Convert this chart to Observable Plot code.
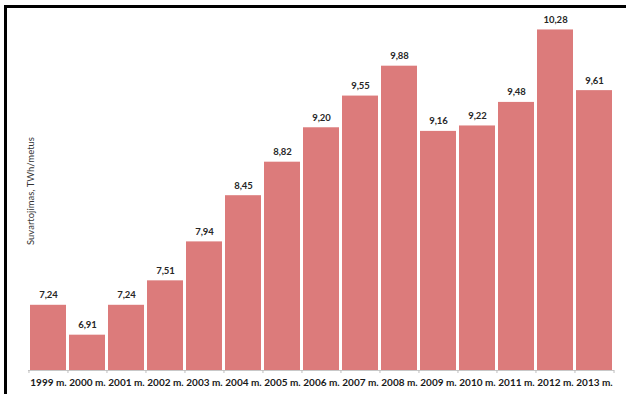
<!DOCTYPE html>
<html>
<head>
<meta charset="utf-8">
<script src="https://cdn.jsdelivr.net/npm/d3@7"></script>
<script src="https://cdn.jsdelivr.net/npm/@observablehq/plot@0.6"></script>
<style>
  html, body { margin: 0; padding: 0; background: #fff; }
  #wrap { position: relative; width: 626px; height: 394px; overflow: hidden; }
  #wrap svg { position: absolute; left: 0; top: 0; }
  #border {
    position: absolute; left: 4px; top: 5px; right: 0; bottom: 0;
    border-top: 3px solid #000; border-left: 3px solid #000;
    pointer-events: none;
  }
</style>
</head>
<body>
<div id="wrap"><div id="border"></div></div>
<script>
// Annual electricity consumption, TWh per year
const years = ["1999 m.", "2000 m.", "2001 m.", "2002 m.", "2003 m.", "2004 m.", "2005 m.", "2006 m.",
               "2007 m.", "2008 m.", "2009 m.", "2010 m.", "2011 m.", "2012 m.", "2013 m."];
const consumption = [7.24, 6.91, 7.24, 7.51, 7.94, 8.45, 8.82, 9.20, 9.55, 9.88, 9.16, 9.22, 9.48, 10.28, 9.61];
const yTitle = "Suvartojimas, TWh/metus";

const data = years.map((year, i) => ({year, value: consumption[i]}));
const fmt = v => v.toFixed(2).replace(".", ",");

const width = 626, height = 394;
const marginLeft = 28, marginRight = 12, marginTop = 5, marginBottom = 24;
const step = (width - marginLeft - marginRight) / years.length;
const yMin = 6.52;

const chart = Plot.plot({
  width, height, marginLeft, marginRight, marginTop, marginBottom,
  style: {fontFamily: "Lato, sans-serif", background: "transparent", color: "#262626"},
  x: {domain: years, paddingInner: 0.08, paddingOuter: 0.04, label: null},
  y: {domain: [yMin, 10.55], axis: null},
  marks: [
    Plot.barY(data, {x: "year", y1: yMin, y2: "value", fill: "#dc7b7b"}),
    Plot.ruleY([yMin], {stroke: "#c8c8c8", strokeWidth: 1}),
    // tick marks at the category boundaries
    Plot.ruleX(years, {x: d => d, y1: yMin, y2: yMin, insetBottom: -3, dx: -step / 2, stroke: "#bdbdbd"}),
    Plot.ruleX(years.slice(-1), {x: d => d, y1: yMin, y2: yMin, insetBottom: -3, dx: step / 2, stroke: "#bdbdbd"}),
    Plot.text(data, {x: "year", y: "value", text: d => fmt(d.value), dy: -7, lineAnchor: "bottom",
      fontSize: 9.5, fontWeight: "bold", fill: "#262626"}),
    Plot.axisX({tickSize: 0, tickPadding: 8, fontSize: 10, fontWeight: "bold", fill: "#1a1a1a"}),
    // vertical axis title, centred on the plot height
    Plot.text([yTitle], {frameAnchor: "left", rotate: -90, textAnchor: "middle", lineAnchor: "middle",
      dx: 2, dy: 3, fontSize: 9.5, fill: "#333"})
  ]
});

document.getElementById("wrap").prepend(chart);
</script>
</body>
</html>
